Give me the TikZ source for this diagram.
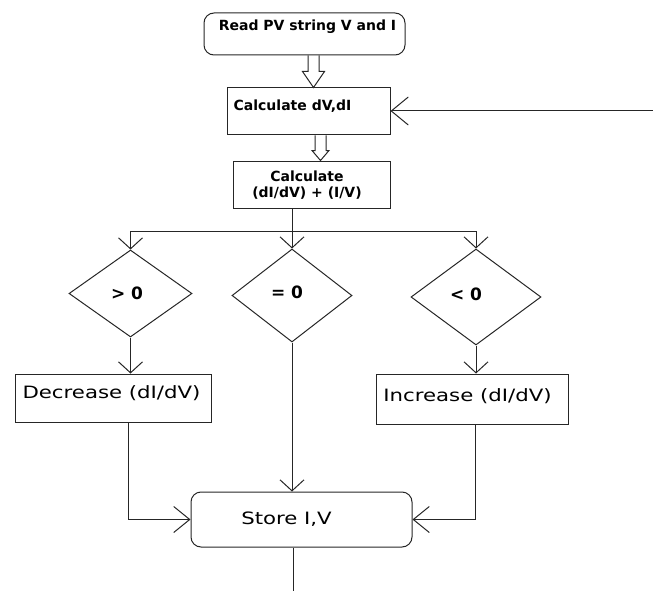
\documentclass[tikz,border=0pt]{standalone}
\usepackage{fontspec}
\setmainfont{DejaVu Sans}
\usetikzlibrary{arrows.meta,shapes.geometric,calc}
\newcommand\wdtxt[1]{\scalebox{1.25}[1]{#1}}
\begin{document}
\begin{tikzpicture}[x=1pt,y=-1pt,
 line/.style={draw=black!85, line width=1pt},
 barb/.style={line, -{Straight Barb[length=11pt,width=24pt]}},
 barbh/.style={line, -{Straight Barb[length=16pt,width=26pt]}},
 barbbig/.style={line, -{Straight Barb[length=17pt,width=28pt]}},
 hollow/.style={line, line join=miter},
 box/.style={line, rectangle, inner sep=0pt},
 term/.style={line, rectangle, rounded corners=10pt, inner sep=0pt},
 dia/.style={line, diamond, inner sep=0pt},
 btxt/.style={font=\bfseries\fontsize{14}{16}\selectfont, inner sep=0pt, align=center},
 rtxt/.style={font=\fontsize{17}{20}\selectfont, inner sep=0pt},
 dtxt/.style={font=\bfseries\fontsize{17}{20}\selectfont, inner sep=0pt},
]
\useasboundingbox (0,0) rectangle (653,591);
% shapes
\node[term, minimum width=201pt, minimum height=42pt] (read) at (304.5,34) {};
\node[box, minimum width=163pt, minimum height=47pt] (calc1) at (308.5,111.5) {};
\node[box, minimum width=157pt, minimum height=47pt] (calc2) at (311.5,184.5) {};
\node[dia, minimum width=123pt, minimum height=87pt] (d1) at (130.5,293.5) {};
\node[dia, minimum width=120pt, minimum height=93pt] (d2) at (292,295.5) {};
\node[dia, minimum width=130pt, minimum height=96pt] (d3) at (476,297) {};
\node[box, minimum width=196pt, minimum height=48pt] (dec) at (113,398) {};
\node[box, minimum width=192pt, minimum height=50pt] (inc) at (472,399) {};
\node[term, minimum width=221pt, minimum height=55pt] (store) at (301.5,519.5) {};
% texts
\node[btxt] (readT) at (307.5,27) {Read PV string V and I};
\node[btxt] (calc1T) at (292.5,106) {Calculate dV,dI};
\node[btxt] (calc2T) at (307,185) {Calculate\\(dI/dV) + (I/V)};
\node[dtxt] (d1T) at (127,293) {> 0};
\node[dtxt] (d2T) at (287,292) {= 0};
\node[dtxt] (d3T) at (466,294) {< 0};
\node[rtxt] (decT) at (111.5,393) {\wdtxt{Decrease (dI/dV)}};
\node[rtxt] (incT) at (467.5,396) {\wdtxt{Increase (dI/dV)}};
\node[rtxt] (storeT) at (286.5,519) {\wdtxt{Store I,V}};
% hollow arrows
\path (read.south) ++(9,0) coordinate (h1a);
\path (calc1.north) ++(5,0) coordinate (h1b);
\draw[hollow] ($(h1a)+(-5.5,0)$) -- ($(h1b)+(-5.5,-16)$) -- ($(h1b)+(-11,-16)$) -- (h1b)
  -- ($(h1b)+(11,-16)$) -- ($(h1b)+(5.5,-16)$) -- ($(h1a)+(5.5,0)$);
\path (calc1.south) ++(12,0) coordinate (h2a);
\path (calc2.north) ++(9,0) coordinate (h2b);
\draw[hollow] ($(h2a)+(-5.5,0)$) -- ($(h2b)+(-5.5,-10)$) -- ($(h2b)+(-8.5,-10)$) -- (h2b)
  -- ($(h2b)+(8.5,-10)$) -- ($(h2b)+(5.5,-10)$) -- ($(h2a)+(5.5,0)$);
% feedback line
\coordinate (fb) at (653,111);
\draw[barbbig] (fb) -- (calc1.east |- fb);
% junction
\coordinate (j) at (292,231);
\draw[line] (calc2.south -| j) -- (j);
\draw[line] (d1.north |- j) -- (d3.north |- j);
\draw[barb] (d1.north |- j) -- (d1.north);
\draw[barb] (j) -- (d2.north);
\draw[barb] (d3.north |- j) -- (d3.north);
% to boxes
\draw[barb] (d1.south) -- (d1.south |- dec.north);
\draw[barb] (d3.south) -- (d3.south |- inc.north);
\draw[barb] (d2.south) -- (d2.south |- store.north);
\path (dec.south) ++(15,0) coordinate (decout);
\path (inc.south) ++(3,0) coordinate (incout);
\draw[barbh] (decout) |- (store.west);
\draw[barbh] (incout) |- (store.east);
\coordinate (bottom) at (293,591);
\draw[line] (store.south -| bottom) -- (bottom);
\end{tikzpicture}
\end{document}
